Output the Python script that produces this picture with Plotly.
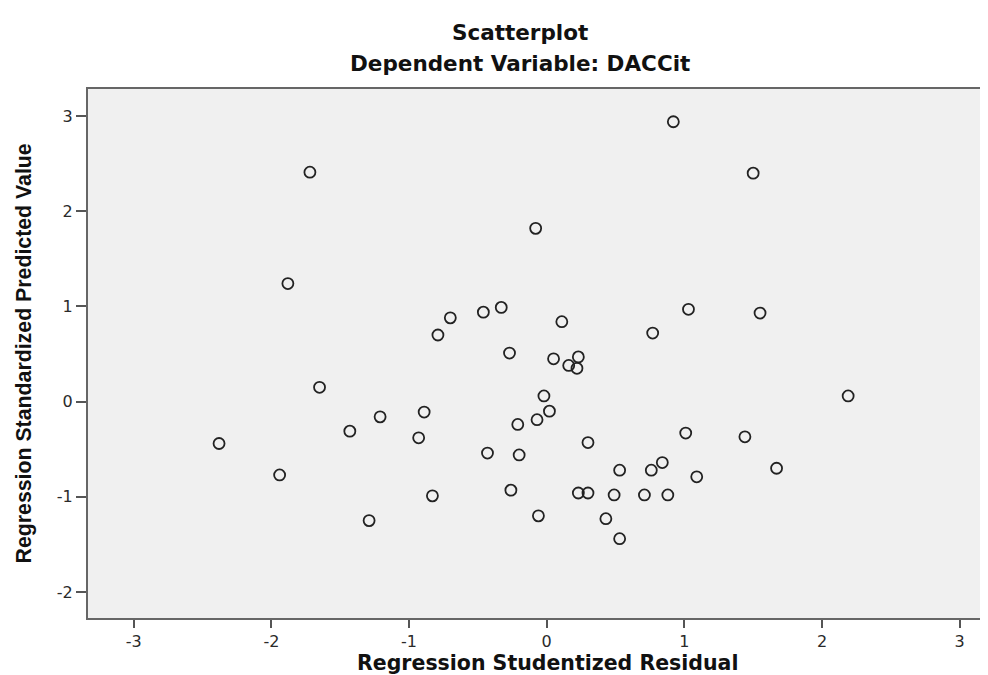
import plotly.graph_objects as go

studentized_residual = [
    0.92, 1.50, -1.72, -0.08, -1.88, -0.70, -0.46, -0.33, 0.11, 1.03,
    1.55, -0.79, 0.77, -0.27, 0.05, 0.23, 0.16, 0.22, -1.65, -0.02,
    2.19, 0.02, -0.89, -1.21, -0.07, -0.21, -1.43, -0.93, 1.01, 1.44,
    0.30, -2.38, -0.43, -0.20, 0.84, 0.53, 0.76, 1.67, -1.94, 1.09,
    -0.26, -0.83, 0.23, 0.30, 0.49, 0.71, 0.88, -1.29, -0.06, 0.43,
    0.53,
]
standardized_predicted = [
    2.94, 2.40, 2.41, 1.82, 1.24, 0.88, 0.94, 0.99, 0.84, 0.97,
    0.93, 0.70, 0.72, 0.51, 0.45, 0.47, 0.38, 0.35, 0.15, 0.06,
    0.06, -0.10, -0.11, -0.16, -0.19, -0.24, -0.31, -0.38, -0.33, -0.37,
    -0.43, -0.44, -0.54, -0.56, -0.64, -0.72, -0.72, -0.70, -0.77, -0.79,
    -0.93, -0.99, -0.96, -0.96, -0.98, -0.98, -0.98, -1.25, -1.20, -1.23,
    -1.44,
]

x_tick_vals = [-3, -2, -1, 0, 1, 2, 3]
x_tick_text = ["-3", "-2", "-1", "0", "1", "2", "3"]
y_tick_vals = [-2, -1, 0, 1, 2, 3]
y_tick_text = ["-2", "-1", "0", "1", "2", "3"]

title_main = "Scatterplot"
title_sub = "Dependent Variable: DACCit"
x_title = "Regression Studentized Residual"
y_title = "Regression Standardized Predicted Value"

fig = go.Figure()
fig.add_trace(go.Scatter(
    x=studentized_residual,
    y=standardized_predicted,
    mode="markers",
    marker=dict(symbol="circle-open", size=11, color="#222222",
                line=dict(width=1.8, color="#222222")),
    hoverinfo="x+y",
    showlegend=False,
))

axis_line = "#666666"
tick_font = dict(family="DejaVu Sans", size=16, color="#2a2a2a")

fig.update_layout(
    width=988, height=675,
    margin=dict(l=80, r=0, t=81, b=65, pad=0),
    paper_bgcolor="white",
    plot_bgcolor="#f0f0f0",
    xaxis=dict(
        range=[-3.332, 3.264],
        tickmode="array", tickvals=x_tick_vals, ticktext=x_tick_text,
        ticks="outside", ticklen=8, tickwidth=1.5, tickcolor="#555555",
        showgrid=False, zeroline=False,
        showline=True, linecolor=axis_line, linewidth=2, mirror=True,
        tickfont=tick_font,
    ),
    yaxis=dict(
        range=[-2.273, 3.284],
        tickmode="array", tickvals=y_tick_vals, ticktext=y_tick_text,
        ticks="outside", ticklen=10, tickwidth=1.5, tickcolor="#555555",
        showgrid=False, zeroline=False,
        showline=True, linecolor=axis_line, linewidth=2, mirror=False,
        tickfont=tick_font,
    ),
    annotations=[
        dict(text="<b>" + title_main + "</b>", xref="paper", yref="paper",
             x=0.4758, y=1.1068, xanchor="center", yanchor="middle", showarrow=False,
             font=dict(family="DejaVu Sans", size=21.5, color="#111111")),
        dict(text="<b>" + title_sub + "</b>", xref="paper", yref="paper",
             x=0.4758, y=1.0491, xanchor="center", yanchor="middle", showarrow=False,
             font=dict(family="DejaVu Sans", size=21.5, color="#111111")),
        dict(text="<b>" + x_title + "</b>", xref="paper", yref="paper",
             x=0.5066, y=-0.0851, xanchor="center", yanchor="middle", showarrow=False,
             font=dict(family="DejaVu Sans", size=20.5, color="#111111")),
        dict(text="<b>" + y_title + "</b>", xref="paper", yref="paper",
             x=-0.0705, y=0.5, xanchor="center", yanchor="middle", showarrow=False,
             textangle=-90,
             font=dict(family="Liberation Sans", size=21.3, color="#111111")),
    ],
)

fig.write_html("out.html")
